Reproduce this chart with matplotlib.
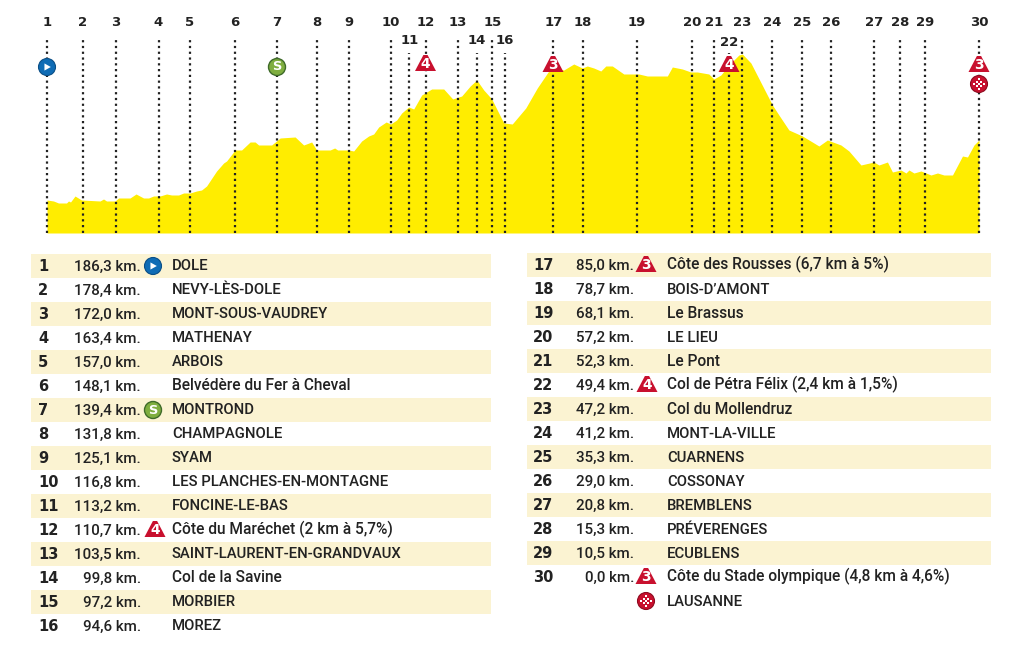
"""
Profil de l'etape Dole - Lausanne
"""

import matplotlib.pyplot as plt
from matplotlib.patches import Circle, Polygon, Rectangle

# profil : km depuis le depart / hauteur
profile_km = [0, 1.3, 2.3, 3.9, 4.3, 4.7, 5.6, 6.9, 10.6, 11.3, 11.9, 13.6, 14.3, 16.6, 17.8, 19.3, 20.3, 21.3,
              22.6, 23.9, 24.9, 26.3, 27.3, 28.6, 29.9, 30.9, 31.9, 33.9, 35.3, 35.9, 37.6, 38.9, 40.6, 41.6,
              42.3, 44.9, 46.6, 49.6, 51.3, 52.9, 53.9, 56.6, 57.5, 58.1, 60.3, 61.3, 62.9, 64.3, 65.3, 66.3,
              67.8, 68.7, 69.9, 70.9, 72.3, 73.3, 74.9, 76.9, 79.3, 81.1, 82.9, 84.6, 85.9, 87.3, 88.9, 91.3,
              93, 95.7, 98, 100.3, 101.3, 103.3, 105.3, 107, 108, 109.3, 110.7, 111.7, 113, 115.3, 118.3, 120,
              124, 125, 127, 128.7, 130, 132.3, 133.3, 134.7, 136.3, 138.3, 139, 140.7, 145, 146.3, 148.3, 151,
              154.3, 156, 158.7, 160.3, 162.7, 165.3, 166.3, 168, 169, 170.7, 171.7, 172.3, 173.3, 174.7, 176.7,
              178, 179.3, 181, 183, 184, 185.3, 186.3]
profile_alt = [33, 32, 30, 30, 32, 31, 37, 33, 32, 34, 32, 32, 35, 35, 39, 35, 35, 37,
               37, 39, 38, 38, 40, 40, 42, 43, 47, 62, 70, 72, 83, 83, 91, 91,
               88, 88, 95, 96, 88, 91, 83, 83, 85, 83, 83, 82, 92, 97, 99, 106,
               111, 109, 113, 120, 126, 124, 138, 144, 144, 134, 137, 147, 153, 143, 134, 110,
               109, 125, 145, 162, 165, 163, 169, 165, 167, 165, 162, 167, 167, 159, 159, 157,
               157, 166, 164, 161, 161, 159, 154, 158, 168, 178, 179, 170, 128, 118, 103, 97,
               87, 93, 88, 82, 68, 71, 68, 71, 61, 63, 60, 63, 60, 62, 58,
               60, 58, 58, 77, 76, 88, 93]

# position de chaque point de passage sur le profil
station_km = [0, 7.1, 13.8, 22.3, 28.5, 37.6, 46, 53.9, 60.3, 68.8, 72.4, 75.7, 82.2, 85.9, 89, 91.5,
              101.2, 107.1, 117.9, 128.9, 133.4, 136.4, 138.9, 144.9, 151, 156.7, 165.3, 170.5, 175.5, 186.3]
second_row = [11, 14, 16, 22]

numbers = list(range(1, 31))
km_left = ['186,3', '178,4', '172,0', '163,4', '157,0', '148,1', '139,4', '131,8', '125,1', '116,8', '113,2',
           '110,7', '103,5', '99,8', '97,2', '94,6', '85,0', '78,7', '68,1', '57,2', '52,3', '49,4', '47,2',
           '41,2', '35,3', '29,0', '20,8', '15,3', '10,5', '0,0']
places = ['DOLE', 'NEVY-LÈS-DOLE', 'MONT-SOUS-VAUDREY', 'MATHENAY', 'ARBOIS', 'Belvédère du Fer à Cheval',
          'MONTROND', 'CHAMPAGNOLE', 'SYAM', 'LES PLANCHES-EN-MONTAGNE', 'FONCINE-LE-BAS',
          'Côte du Maréchet (2 km à 5,7%)', 'SAINT-LAURENT-EN-GRANDVAUX', 'Col de la Savine', 'MORBIER', 'MOREZ',
          'Côte des Rousses (6,7 km à 5%)', 'BOIS-D’AMONT', 'Le Brassus', 'LE LIEU', 'Le Pont',
          'Col de Pétra Félix (2,4 km à 1,5%)', 'Col du Mollendruz', 'MONT-LA-VILLE', 'CUARNENS', 'COSSONAY',
          'BREMBLENS', 'PRÉVERENGES', 'ECUBLENS', 'Côte du Stade olympique (4,8 km à 4,6%)']
last_place = 'LAUSANNE'

YELLOW = '#FFED00'
BAND = '#FBF3D2'
RED = '#C8102E'
DARK = '#222222'
TEXT_FONT = ['Roboto']
NUM_FONT = ['DejaVu Sans']

W, H = 1024, 653
fig = plt.figure(figsize=(W / 100, H / 100), dpi=100)

# axe du profil : x en km, y en hauteur
prof = fig.add_axes([47 / W, (H - 233) / H, 932 / W, 233 / H], facecolor='none')
prof.set_xlim(0, 186.3)
prof.set_ylim(0, 233)
prof.axis('off')
prof.fill_between(profile_km, profile_alt, 0, color=YELLOW, lw=0, zorder=1)

# axe en pixels pour le tableau et les icones, au dessus du profil
page = fig.add_axes([0, 0, 1, 1], facecolor='none')
page.set_xlim(0, W)
page.set_ylim(H, 0)
page.axis('off')
page.set_zorder(3)

for n, km in zip(numbers, station_km):
    top = 180 if n in second_row else 195
    prof.plot([km, km], [0, top], color=DARK, lw=1.6, ls=(0, (1.0, 1.6)), clip_on=False, zorder=2)
    label_y = 41 if n in second_row else 23
    if n == 22:
        label_y = 43
    prof.text(km, 233 - label_y, str(n), ha='center', va='center', fontsize=9.5, fontweight='bold',
              family=NUM_FONT, color=DARK, clip_on=False)


def icon_start(x, y, r=8.5):
    page.add_patch(Circle((x, y), r, fc='#0F6CB5', ec='#0B4F86', lw=0.8, zorder=5))
    page.add_patch(Polygon([(x - r * 0.3, y - r * 0.42), (x + r * 0.45, y), (x - r * 0.3, y + r * 0.42)],
                           fc='white', ec='none', zorder=6))


def icon_sprint(x, y, r=8.5):
    page.add_patch(Circle((x, y), r, fc='#7FAE3F', ec='#3F6B2A', lw=1, zorder=5))
    page.text(x, y, 'S', ha='center', va='center', color='white', fontsize=r * 1.1, fontweight='bold',
              family=NUM_FONT, zorder=6)


def icon_climb(x, y, cat, w=21, h=16):
    page.add_patch(Polygon([(x - w / 2, y + h / 2), (x - w * 0.1, y - h / 2), (x + w * 0.1, y - h / 2),
                            (x + w / 2, y + h / 2)], fc=RED, ec='none', zorder=5))
    page.text(x, y + 1, str(cat), ha='center', va='center', color='white', fontsize=h * 0.62, fontweight='bold',
              family=NUM_FONT, zorder=6)


def icon_finish(x, y, r=8.5):
    page.add_patch(Circle((x, y), r, fc=RED, ec='#8E0B20', lw=0.8, zorder=5))
    for i in range(-2, 3):
        for j in range(-2, 3):
            if (i + j) % 2 == 0 and i * i + j * j < 6:
                page.add_patch(Rectangle((x + i * 2.4 - 1, y + j * 2.4 - 1), 2, 2, fc='white', ec='none', zorder=6))


# icones sur le profil
icon_start(47, 67)
icon_sprint(277, 67)
icon_climb(425.5, 63, 4)
icon_climb(553, 64, 3)
icon_climb(729, 64, 4)
icon_climb(979, 64, 3)
icon_finish(979, 84)


def name_size(name):
    return 10.7 if name.isupper() else 11.2


# tableau
for i, n in enumerate(numbers):
    left = n <= 16
    row = i if left else i - 16
    y = (266 if left else 265) + 24 * row
    x_band, w_band = (31, 460) if left else (527, 464)
    x_num, x_km, x_name = (38, 141, 172) if left else (533, 634, 667)
    if row % 2 == 0:
        page.add_patch(Rectangle((x_band, y - 12), w_band, 24, fc=BAND, ec='none', zorder=1))
    page.text(x_num, y + 5, str(n), ha='left', va='baseline', fontsize=10.5, fontweight='bold', family=NUM_FONT,
              color=DARK, zorder=3)
    page.text(x_km, y + 4.5, km_left[i] + ' km.', ha='right', va='baseline', fontsize=10.9, fontweight='medium',
              family=TEXT_FONT, color=DARK, zorder=3)
    page.text(x_name, y + 4.5, places[i], ha='left', va='baseline', fontsize=name_size(places[i]),
              fontweight='medium', family=TEXT_FONT, color=DARK, zorder=3)

page.text(667, 605.5, last_place, ha='left', va='baseline', fontsize=10.7, fontweight='medium', family=TEXT_FONT,
          color=DARK, zorder=3)

icon_start(153, 266)
icon_sprint(153, 410)
icon_climb(155, 529, 4)
icon_climb(646, 264, 3)
icon_climb(647, 384, 4)
icon_climb(646, 576, 3)
icon_finish(646, 601)

fig.savefig('out.png', dpi=100)
